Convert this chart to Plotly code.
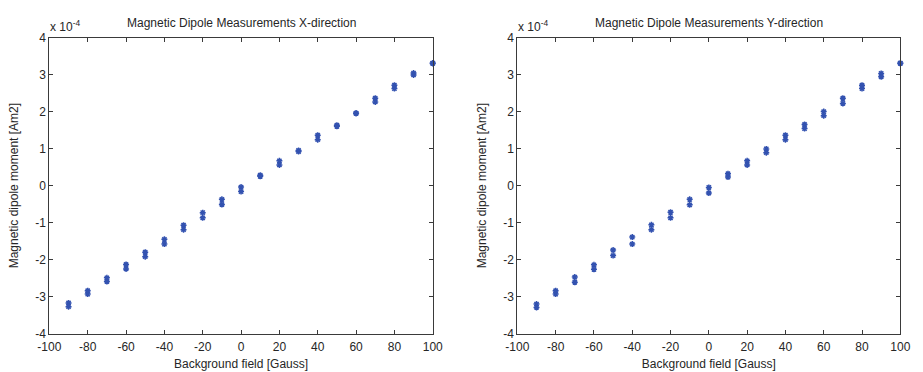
import plotly.graph_objects as go

# Background field [Gauss], two measurements per field step
field = [-90, -80, -70, -60, -50, -40, -30, -20, -10, 0, 10, 20, 30, 40, 50, 60, 70, 80, 90, 100]

# Magnetic dipole moment, units of 1e-4 Am2
x_dir_a = [-3.17, -2.84, -2.49, -2.13, -1.80, -1.45, -1.07, -0.73, -0.37, -0.04, 0.28, 0.67, 0.95, 1.36, 1.63, 1.96, 2.36, 2.71, 3.04, 3.30]
x_dir_b = [-3.27, -2.93, -2.59, -2.25, -1.92, -1.58, -1.19, -0.87, -0.51, -0.16, 0.25, 0.56, 0.92, 1.24, 1.60, 1.95, 2.26, 2.62, 2.99, 3.31]
y_dir_a = [-3.20, -2.84, -2.47, -2.14, -1.74, -1.39, -1.06, -0.72, -0.37, -0.05, 0.32, 0.67, 0.99, 1.36, 1.65, 2.00, 2.36, 2.71, 3.03, 3.30]
y_dir_b = [-3.29, -2.93, -2.61, -2.26, -1.89, -1.58, -1.19, -0.87, -0.52, -0.20, 0.23, 0.56, 0.89, 1.24, 1.54, 1.89, 2.22, 2.62, 2.94, 3.31]

x_ticks = [-100, -80, -60, -40, -20, 0, 20, 40, 60, 80, 100]
x_tick_text = ["-100", "-80", "-60", "-40", "-20", "0", "20", "40", "60", "80", "100"]
y_ticks = [-4, -3, -2, -1, 0, 1, 2, 3, 4]
y_tick_text = ["-4", "-3", "-2", "-1", "0", "1", "2", "3", "4"]

titles = ["Magnetic Dipole Measurements X-direction", "Magnetic Dipole Measurements Y-direction"]
xlabel = "Background field [Gauss]"
ylabel = "Magnetic dipole moment [Am2]"

W, H = 923, 372
MARK = "#3352b0"
AX = "#3a3a3a"
TXT = "#262626"
FONT = "Liberation Sans, Arial, sans-serif"
FS = 12

fig = go.Figure()

panels = [
    (x_dir_a, x_dir_b, "x", "y", (38.3 / W, 431.0 / W)),
    (y_dir_a, y_dir_b, "x2", "y2", (517.7 / W, 910.0 / W)),
]
ydom = (1 - 339.5 / H, 1 - 31.7 / H)

layout = dict(
    width=W, height=H, margin=dict(l=0, r=0, t=0, b=0),
    paper_bgcolor="white", plot_bgcolor="white", showlegend=False,
    font=dict(family=FONT, size=FS, color=TXT),
)
annotations = []
for i, (ya, yb, xa, yaax, xdom) in enumerate(panels):
    for yv in (ya, yb):
        fig.add_trace(go.Scatter(
            x=field, y=yv, xaxis=xa, yaxis=yaax, mode="markers",
            marker=dict(symbol="asterisk-open", size=5, color=MARK,
                        line=dict(color=MARK, width=1.5)),
            cliponaxis=False,
        ))
    sfx = "" if i == 0 else str(i + 1)
    layout["xaxis" + sfx] = dict(
        domain=list(xdom), range=[-100, 100], anchor="y" + sfx,
        tickvals=x_ticks, ticktext=x_tick_text, ticks="inside", ticklen=4, tickcolor=AX,
        showline=True, linecolor=AX, linewidth=1, mirror="ticks",
        showgrid=False, zeroline=False, ticklabelstandoff=2,
        tickfont=dict(size=FS, color=TXT),
        title=dict(text=xlabel, font=dict(size=FS, color=TXT), standoff=6),
    )
    layout["yaxis" + sfx] = dict(
        domain=list(ydom), range=[-4, 4], anchor="x" + sfx,
        tickvals=y_ticks, ticktext=y_tick_text, ticks="inside", ticklen=4, tickcolor=AX,
        showline=True, linecolor=AX, linewidth=1, mirror="ticks",
        showgrid=False, zeroline=False,
        tickfont=dict(size=FS, color=TXT),
        title=dict(text=ylabel, font=dict(size=FS, color=TXT), standoff=14),
    )
    cx = (xdom[0] + xdom[1]) / 2
    annotations.append(dict(
        text=titles[i], x=cx, y=1 - 17 / H, xref="paper", yref="paper",
        xanchor="center", yanchor="middle", showarrow=False,
        font=dict(size=FS, color=TXT),
    ))
    annotations.append(dict(
        text="x 10<sup>-4</sup>", x=xdom[0] - 1 / W, y=1 - 20 / H, xref="paper", yref="paper",
        xanchor="left", yanchor="middle", showarrow=False,
        font=dict(size=FS, color=TXT),
    ))
layout["annotations"] = annotations
fig.update_layout(**layout)
fig.write_html("out.html")
